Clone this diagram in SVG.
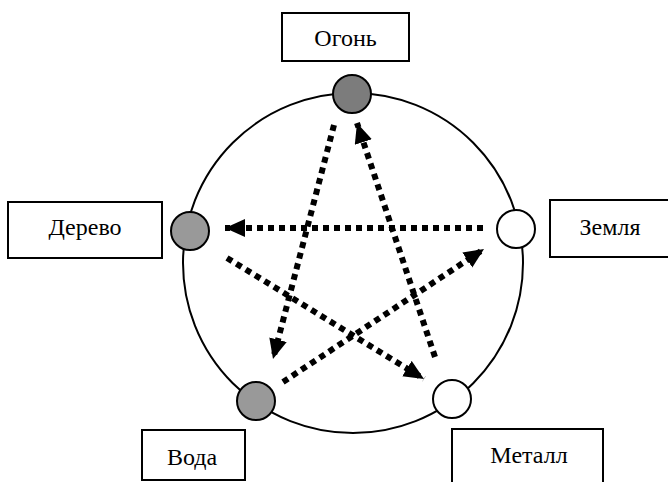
<svg xmlns="http://www.w3.org/2000/svg" width="668" height="482" viewBox="0 0 668 482">
<style>
.box{fill:#fff;stroke:#000;stroke-width:2}
.lbl{font-family:"Liberation Serif","Times New Roman",serif;font-size:24px;fill:#000;text-anchor:middle}
.node{stroke:#000;stroke-width:2}
.dark{fill:#7c7c7c}
.mid{fill:#999}
.light{fill:#fff}
.arr{fill:none;stroke:#000;stroke-width:6;stroke-dasharray:6 5}
</style>
<defs>
<marker id="ah" markerUnits="userSpaceOnUse" markerWidth="22" markerHeight="20" refX="20" refY="9" orient="auto">
<path d="M0,0 L20,9 L0,18 z" fill="#000"/>
</marker>
</defs>
<circle cx="353" cy="263" r="170" fill="none" stroke="#000" stroke-width="2"/>
<g id="connectors">
<line class="arr" x1="334" y1="125" x2="273" y2="359" marker-end="url(#ah)"/>
<line class="arr" x1="435" y1="357" x2="357" y2="123" marker-end="url(#ah)"/>
<line class="arr" x1="483" y1="228" x2="225" y2="228" marker-end="url(#ah)"/>
<line class="arr" x1="227" y1="258" x2="424" y2="379" marker-end="url(#ah)"/>
<line class="arr" x1="283" y1="382" x2="484" y2="249" marker-end="url(#ah)"/>
</g>
<g id="fire">
<circle class="node dark" cx="352" cy="94" r="19"/>
<rect class="box" x="282" y="13" width="127" height="48"/>
<text class="lbl" x="345.5" y="46">Огонь</text>
</g>
<g id="wood">
<circle class="node mid" cx="190" cy="231" r="19"/>
<rect class="box" x="8" y="202" width="154" height="56"/>
<text class="lbl" x="85" y="235">Дерево</text>
</g>
<g id="earth">
<circle class="node light" cx="516" cy="229" r="19"/>
<rect class="box" x="550" y="200" width="125" height="57"/>
<text class="lbl" x="610" y="235">Земля</text>
</g>
<g id="water">
<circle class="node mid" cx="256" cy="401" r="19"/>
<rect class="box" x="142" y="430" width="103" height="50"/>
<text class="lbl" x="192" y="465">Вода</text>
</g>
<g id="metal">
<circle class="node light" cx="452" cy="399" r="19"/>
<rect class="box" x="452" y="429" width="151" height="60"/>
<text class="lbl" x="529" y="463">Металл</text>
</g>
</svg>
